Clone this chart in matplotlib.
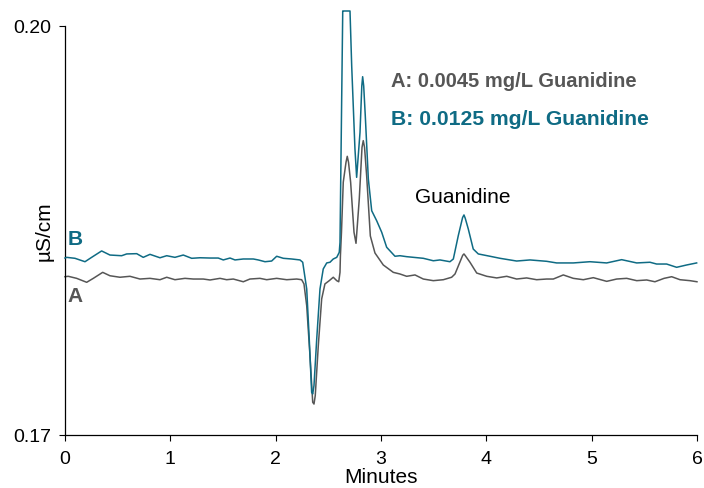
"""
Chromatogram of guanidine at two concentrations (traces A and B).
"""

import matplotlib
matplotlib.use("Agg")
import matplotlib.pyplot as plt

# --------------------------------------------------
# DATA (minutes, uS/cm)
# --------------------------------------------------
time_b = [
    0.000, 0.016, 0.095, 0.190, 0.253, 0.348, 0.427, 0.538, 0.586, 0.681,
    0.743, 0.807, 0.902, 0.966, 1.044, 1.123, 1.203, 1.282, 1.377, 1.455,
    1.503, 1.567, 1.614, 1.693, 1.788, 1.835, 1.899, 1.962, 2.010, 2.073,
    2.152, 2.231, 2.257, 2.295, 2.319, 2.342, 2.352, 2.364, 2.390, 2.421,
    2.452, 2.485, 2.516, 2.547, 2.580, 2.604, 2.611, 2.627, 2.637, 2.642,
    2.706, 2.722, 2.753, 2.769, 2.801, 2.818, 2.826, 2.836, 2.851, 2.880,
    2.912, 2.959, 3.007, 3.054, 3.133, 3.180, 3.244, 3.402, 3.497, 3.560,
    3.655, 3.687, 3.734, 3.775, 3.788, 3.800, 3.829, 3.876, 3.924, 4.035,
    4.130, 4.225, 4.288, 4.415, 4.573, 4.668, 4.826, 4.984, 5.143, 5.285,
    5.428, 5.554, 5.617, 5.712, 5.807, 5.902, 5.997,
]
signal_b = [
    0.18298, 0.18303, 0.18296, 0.18271, 0.18303, 0.18350, 0.18320, 0.18315, 0.18328, 0.18330,
    0.18303, 0.18325, 0.18300, 0.18315, 0.18303, 0.18320, 0.18296, 0.18300, 0.18298, 0.18298,
    0.18284, 0.18298, 0.18284, 0.18291, 0.18291, 0.18284, 0.18271, 0.18276, 0.18311, 0.18296,
    0.18291, 0.18284, 0.18267, 0.18071, 0.17704, 0.17313, 0.17301, 0.17362, 0.17704, 0.18071,
    0.18218, 0.18262, 0.18267, 0.18291, 0.18303, 0.18340, 0.18413, 0.19465, 0.20110, 0.20110,
    0.20110, 0.19709, 0.19098, 0.18890, 0.19220, 0.19560, 0.19628, 0.19560, 0.19342, 0.18878,
    0.18645, 0.18572, 0.18487, 0.18377, 0.18311, 0.18315, 0.18308, 0.18296, 0.18278, 0.18284,
    0.18271, 0.18291, 0.18462, 0.18595, 0.18614, 0.18590, 0.18511, 0.18364, 0.18328, 0.18311,
    0.18296, 0.18284, 0.18276, 0.18284, 0.18274, 0.18262, 0.18262, 0.18271, 0.18262, 0.18286,
    0.18262, 0.18267, 0.18254, 0.18254, 0.18230, 0.18247, 0.18262,
]

time_a = [
    0.000, 0.031, 0.111, 0.206, 0.269, 0.358, 0.427, 0.522, 0.617, 0.712,
    0.807, 0.902, 0.966, 1.044, 1.139, 1.218, 1.313, 1.377, 1.472, 1.535,
    1.598, 1.693, 1.756, 1.851, 1.915, 2.010, 2.105, 2.200, 2.247, 2.269,
    2.295, 2.326, 2.352, 2.364, 2.376, 2.405, 2.437, 2.468, 2.509, 2.547,
    2.580, 2.599, 2.611, 2.615, 2.625, 2.642, 2.668, 2.680, 2.692, 2.712,
    2.744, 2.763, 2.794, 2.820, 2.832, 2.844, 2.864, 2.899, 2.943, 3.022,
    3.117, 3.180, 3.244, 3.323, 3.402, 3.497, 3.592, 3.671, 3.703, 3.776,
    3.788, 3.800, 3.845, 3.909, 4.004, 4.099, 4.194, 4.288, 4.383, 4.478,
    4.573, 4.636, 4.731, 4.826, 4.921, 5.016, 5.143, 5.238, 5.333, 5.428,
    5.523, 5.601, 5.688, 5.760, 5.839, 5.934, 6.000,
]
signal_a = [
    0.18161, 0.18164, 0.18149, 0.18120, 0.18149, 0.18193, 0.18168, 0.18157, 0.18164, 0.18144,
    0.18149, 0.18139, 0.18157, 0.18139, 0.18149, 0.18144, 0.18144, 0.18137, 0.18149, 0.18139,
    0.18144, 0.18124, 0.18144, 0.18149, 0.18139, 0.18149, 0.18139, 0.18144, 0.18139, 0.18108,
    0.17948, 0.17582, 0.17240, 0.17227, 0.17288, 0.17655, 0.17998, 0.18108, 0.18132, 0.18157,
    0.18132, 0.18124, 0.18193, 0.18315, 0.18487, 0.18854, 0.19000, 0.19044, 0.19000, 0.18854,
    0.18487, 0.18406, 0.18731, 0.19110, 0.19159, 0.19110, 0.18902, 0.18460, 0.18335, 0.18247,
    0.18193, 0.18181, 0.18164, 0.18174, 0.18144, 0.18132, 0.18139, 0.18157, 0.18181, 0.18318,
    0.18328, 0.18316, 0.18267, 0.18188, 0.18164, 0.18152, 0.18164, 0.18144, 0.18152, 0.18139,
    0.18144, 0.18144, 0.18174, 0.18149, 0.18139, 0.18154, 0.18127, 0.18144, 0.18149, 0.18132,
    0.18137, 0.18124, 0.18149, 0.18161, 0.18139, 0.18132, 0.18124,
]

x_ticks = [0, 1, 2, 3, 4, 5, 6]
y_ticks = [0.17, 0.20]
y_tick_labels = ["0.17", "0.20"]

legend_a = "A: 0.0045 mg/L Guanidine"
legend_b = "B: 0.0125 mg/L Guanidine"

# --------------------------------------------------
# STYLE
# --------------------------------------------------
COLOR_A = "#565656"
COLOR_B = "#0f6b84"
plt.rcParams["font.family"] = ["Liberation Sans", "DejaVu Sans"]

fig = plt.figure(figsize=(7.04, 4.89), dpi=100)
ax = fig.add_axes([0.0923, 0.1084, 0.8977, 0.8364])

ax.plot(time_a, signal_a, color=COLOR_A, lw=1.1, clip_on=False, zorder=2)
ax.plot(time_b, signal_b, color=COLOR_B, lw=1.1, clip_on=False, zorder=3)

ax.set_xlim(0, 6)
ax.set_ylim(0.17, 0.20)
ax.set_xticks(x_ticks)
ax.set_yticks(y_ticks)
ax.set_yticklabels(y_tick_labels)
ax.tick_params(axis="both", labelsize=14, length=4, width=0.8, direction="out")
ax.tick_params(axis="x", pad=7)
ax.tick_params(axis="y", pad=6)

for side in ["top", "right"]:
    ax.spines[side].set_visible(False)
for side in ["left", "bottom"]:
    ax.spines[side].set_linewidth(0.9)

ax.set_xlabel("Minutes", fontsize=15, labelpad=0)
ax.set_ylabel("µS/cm", fontsize=15)
ax.yaxis.set_label_coords(-0.018, 0.5)

# annotations
ax.text(3.095, 0.19597, legend_a, color=COLOR_A, fontsize=14.5,
        fontweight="bold", va="center", ha="left")
ax.text(3.095, 0.19325, legend_b, color=COLOR_B, fontsize=15.2,
        fontweight="bold", va="center", ha="left")
ax.text(3.78, 0.18746, "Guanidine", color="black", fontsize=15,
        va="center", ha="center")
ax.text(0.028, 0.18438, "B", color=COLOR_B, fontsize=15,
        fontweight="bold", va="center", ha="left")
ax.text(0.028, 0.18020, "A", color=COLOR_A, fontsize=15,
        fontweight="bold", va="center", ha="left")

fig.savefig("out.png", dpi=100)
